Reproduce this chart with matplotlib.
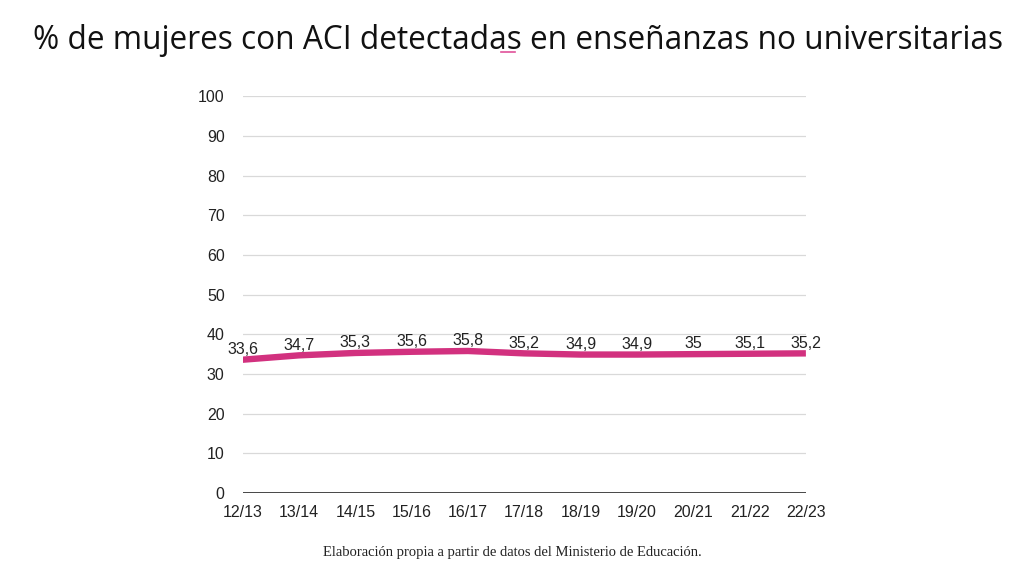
import numpy as np
import matplotlib
matplotlib.use("Agg")
import matplotlib.pyplot as plt

cursos = ["12/13", "13/14", "14/15", "15/16", "16/17", "17/18",
          "18/19", "19/20", "20/21", "21/22", "22/23"]
pct_mujeres = [33.6, 34.7, 35.3, 35.6, 35.8, 35.2, 34.9, 34.9, 35.0, 35.1, 35.2]
yticks = [0, 10, 20, 30, 40, 50, 60, 70, 80, 90, 100]

TITLE = "% de mujeres con ACI detectadas en enseñanzas no universitarias"
FUENTE = "Elaboración propia a partir de datos del Ministerio de Educación."
PINK = "#D2317F"


def fmt(v):
    s = f"{v:.1f}".replace(".", ",")
    return s[:-2] if s.endswith(",0") else s


fig = plt.figure(figsize=(10.24, 5.76), dpi=100)
ax = fig.add_axes([0.237, 0.144, 0.550, 0.689])

x = np.arange(len(cursos))
ax.plot(x, pct_mujeres, color=PINK, lw=4.6, solid_capstyle="butt", zorder=3)
for xi, v in zip(x, pct_mujeres):
    ax.annotate(fmt(v), (xi, v), xytext=(0, 2), textcoords="offset points",
                ha="center", va="bottom", fontsize=11.5,
                family="Liberation Sans", color="#222222", zorder=4)

ax.set_xlim(x[0], x[-1])
ax.set_ylim(0, 100)
ax.set_yticks(yticks)
ax.set_xticks(x)
ax.set_xticklabels(cursos)
for lab in ax.get_xticklabels() + ax.get_yticklabels():
    lab.set_family("Liberation Sans")
    lab.set_fontsize(11.5)
    lab.set_color("#222222")
ax.tick_params(length=0)
ax.tick_params(axis="x", pad=8.5)
ax.tick_params(axis="y", pad=13)
ax.grid(axis="y", color="#d9d9d9", lw=0.9)
ax.set_axisbelow(True)
for s in ax.spines.values():
    s.set_visible(False)
ax.axhline(0, color="#111111", lw=1.8, zorder=2)

fig.text(0.506, 0.93, TITLE, ha="center", va="center", fontsize=22.8,
         family="Open Sans", color="#111111")
# subrayado del corrector ortográfico bajo "as"
fig.add_artist(plt.Line2D([0.489, 0.503], [0.91, 0.91], color="#e0529a",
                          lw=1.2, transform=fig.transFigure))
fig.text(0.5, 0.04, FUENTE, ha="center", va="center", fontsize=10.5,
         family="Liberation Serif", color="#222222")

fig.savefig("out.png", dpi=100)
